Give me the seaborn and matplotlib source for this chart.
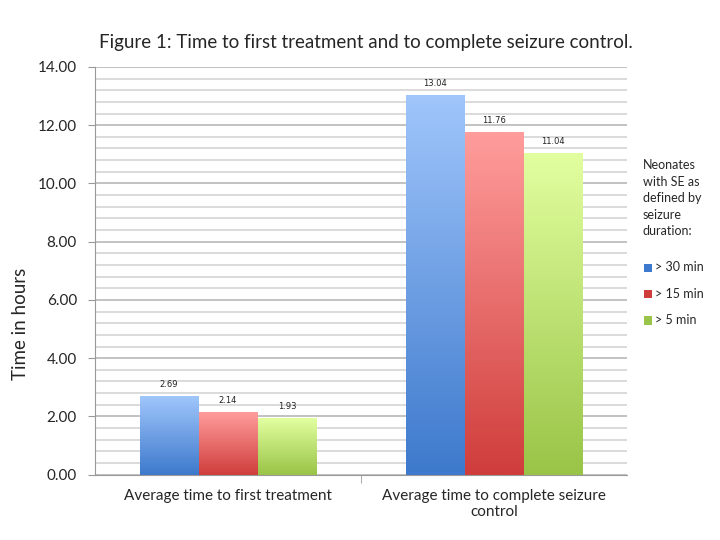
import matplotlib.pyplot as plt
import seaborn as sns
import pandas as pd
import numpy as np
from matplotlib.colors import LinearSegmentedColormap
from matplotlib.ticker import MultipleLocator

# data
categories = ["Average time to first treatment", "Average time to complete seizure\ncontrol"]
groups = ["> 30 min", "> 15 min", "> 5 min"]
over_30 = [2.69, 13.04]
over_15 = [2.14, 11.76]
over_5 = [1.93, 11.04]

df = pd.DataFrame({
    "category": categories * 3,
    "group": [g for g in groups for _ in categories],
    "hours": over_30 + over_15 + over_5,
})

# top / bottom colours for the gradient fills
grad = {
    "> 30 min": ("#a0c6fb", "#3d79cc"),
    "> 15 min": ("#ff9d9c", "#cf3d3b"),
    "> 5 min": ("#e2ffa0", "#99c447"),
}
legend_colors = {g: grad[g][1] for g in groups}

sns.set_style("white")
plt.rcParams["font.family"] = ["Lato", "DejaVu Sans"]

fig = plt.figure(figsize=(7.2, 5.4), dpi=100)
ax = fig.add_axes([0.132, 0.121, 0.739, 0.755])

sns.barplot(data=df, x="category", y="hours", hue="group", hue_order=groups,
            palette=legend_colors, width=0.665, ax=ax, legend=False)

# gradient fill on each bar
for cont, g in zip(ax.containers, groups):
    top, bot = grad[g]
    cmap = LinearSegmentedColormap.from_list(g, [bot, top])
    for bar, val in zip(cont, df.loc[df.group == g, "hours"]):
        x0, y0 = bar.get_x(), bar.get_y()
        w, h = bar.get_width(), bar.get_height()
        bar.set_facecolor("none")
        bar.set_edgecolor("none")
        ax.imshow(np.linspace(0, 1, 256).reshape(-1, 1), cmap=cmap,
                  extent=[x0, x0 + w, y0, y0 + h], origin="lower",
                  aspect="auto", zorder=2)
        ax.text(x0 + w / 2, val + 0.25, f"{val:.2f}", ha="center", va="bottom",
                fontsize=6, family="DejaVu Sans", color="#222222")
ax.set_aspect("auto")
ax.set_xlim(-0.5, 1.5)
ax.set_ylim(0, 14)

# grid lines every 0.4, darker every 2
ax.yaxis.set_major_locator(MultipleLocator(2))
ax.yaxis.set_minor_locator(MultipleLocator(0.4))
ax.grid(which="minor", axis="y", color="#d4d4d4", lw=1.2, zorder=0)
ax.grid(which="major", axis="y", color="#b8b8b8", lw=1.2, zorder=0)
ax.set_axisbelow(True)
ax.set_yticks(np.arange(0, 15, 2))
ax.set_yticklabels([f"{v:.2f}" for v in np.arange(0, 15, 2)], fontsize=11)
ax.tick_params(axis="y", which="major", left=True, length=5, color="#999999", pad=8)
ax.tick_params(axis="x", labelsize=11, pad=10, length=0)

# the tick between the two groups
ax.set_xticks([0, 1], minor=False)
ax.set_xticks([0.5], minor=True)
ax.tick_params(axis="x", which="minor", bottom=True, length=6, color="#999999")

for s in ["top", "right"]:
    ax.spines[s].set_visible(False)
ax.spines["left"].set_color("#999999")
ax.spines["bottom"].set_color("#999999")

ax.set_xlabel("")
ax.set_ylabel("Time in hours", fontsize=13.5)
ax.yaxis.set_label_coords(-0.124, 0.37)

fig.text(0.508, 0.912, "Figure 1: Time to first treatment and to complete seizure control.",
         ha="center", fontsize=13.5)

# legend
fig.text(0.893, 0.705, "Neonates\nwith SE as\ndefined by\nseizure\nduration:",
         ha="left", va="top", fontsize=9, linespacing=1.45)
for i, g in enumerate(groups):
    y = 0.505 - i * 0.049
    fig.patches.append(plt.Rectangle((0.895, y - 0.008), 0.011, 0.015,
                                     transform=fig.transFigure,
                                     facecolor=grad[g][1], edgecolor="none"))
    fig.text(0.91, y, g, ha="left", va="center", fontsize=9)

plt.savefig("out.png", dpi=100)
